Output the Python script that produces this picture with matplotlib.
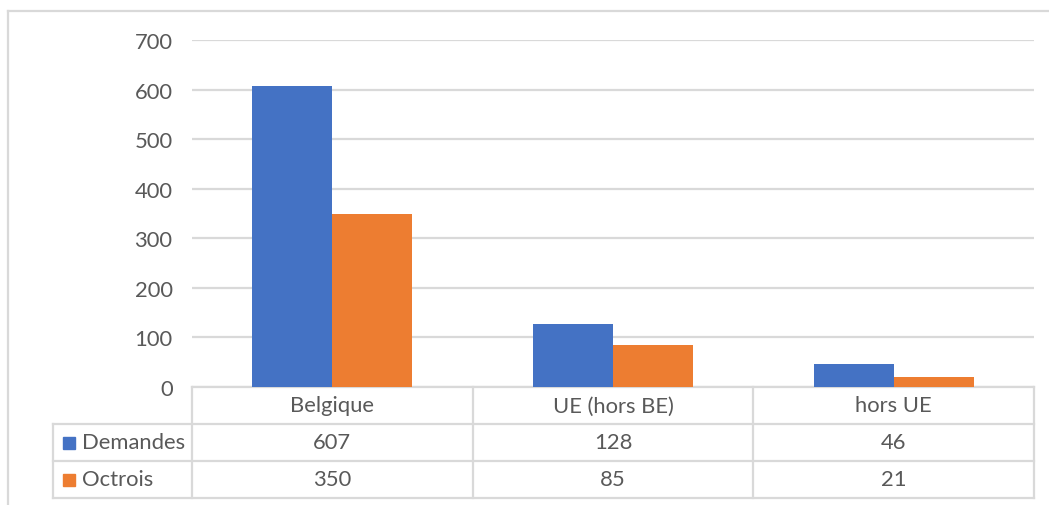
import matplotlib.pyplot as plt
from matplotlib.lines import Line2D
from matplotlib.patches import Rectangle
import numpy as np

categories = ['Belgique', 'UE (hors BE)', 'hors UE']
series_names = ['Demandes', 'Octrois']
demandes = [607, 128, 46]
octrois = [350, 85, 21]
yticks = [0, 100, 200, 300, 400, 500, 600, 700]

blue = '#4472C4'
orange = '#ED7D31'
grid = '#D9D9D9'
txt = '#595959'
fs = 15.8

plt.rcParams['font.family'] = ['Lato', 'DejaVu Sans']

W, H = 1049, 506
fig = plt.figure(figsize=(W / 100, H / 100), dpi=100)

# overlay in pixel coords for frame + data table
bg = fig.add_axes([0, 0, 1, 1])
bg.set_xlim(0, W)
bg.set_ylim(H, 0)
bg.axis('off')

# plot area (pixels)
x0, x1 = 192, 1034
y_top, y_bot = 41, 388
ax = fig.add_axes([x0 / W, 1 - y_bot / H, (x1 - x0) / W, (y_bot - y_top) / H])

n = len(categories)
xs = np.arange(n)
bw = 0.285
ax.bar(xs - bw / 2, demandes, bw, color=blue, zorder=3)
ax.bar(xs + bw / 2, octrois, bw, color=orange, zorder=3)
ax.set_xlim(-0.5, n - 0.5)
ax.set_ylim(0, 700)
ax.set_yticks(yticks)
ax.set_xticks([])
ax.yaxis.grid(True, color=grid, linewidth=1.6, zorder=0)
ax.tick_params(axis='y', length=0, pad=14, labelsize=fs, labelcolor=txt)
for s in ax.spines.values():
    s.set_visible(False)
ax.patch.set_alpha(0)

# outer chart frame
bg.add_line(Line2D([8, 8], [12, H], color=grid, lw=1.6))
bg.add_line(Line2D([8, W], [12, 12], color=grid, lw=1.6))

# data table under the plot
col_w = (x1 - x0) / n
rows_y = [388, 425, 462, 499]
lx = 53
lc = '#D9D9D9'
bg.add_line(Line2D([x0, x1], [rows_y[0]] * 2, color=lc, lw=1.6))
for yy in rows_y[1:]:
    bg.add_line(Line2D([lx, x1], [yy] * 2, color=lc, lw=1.6))
bg.add_line(Line2D([lx, lx], [rows_y[1], rows_y[3]], color=lc, lw=1.6))
for i in range(n + 1):
    xx = x0 + i * col_w
    bg.add_line(Line2D([xx, xx], [rows_y[0], rows_y[3]], color=lc, lw=1.6))

for i, c in enumerate(categories):
    cx = x0 + (i + 0.5) * col_w
    bg.text(cx, (rows_y[0] + rows_y[1]) / 2, c, ha='center', va='center',
            fontsize=fs, color=txt)
    bg.text(cx, (rows_y[1] + rows_y[2]) / 2, str(demandes[i]), ha='center',
            va='center', fontsize=fs, color=txt)
    bg.text(cx, (rows_y[2] + rows_y[3]) / 2, str(octrois[i]), ha='center',
            va='center', fontsize=fs, color=txt)

for j, (name, col) in enumerate(zip(series_names, [blue, orange])):
    cy = (rows_y[j + 1] + rows_y[j + 2]) / 2
    bg.add_patch(Rectangle((63, cy - 6), 12, 12, color=col))
    bg.text(82, cy, name, ha='left', va='center', fontsize=fs, color=txt)

fig.savefig('out.png', dpi=100)
